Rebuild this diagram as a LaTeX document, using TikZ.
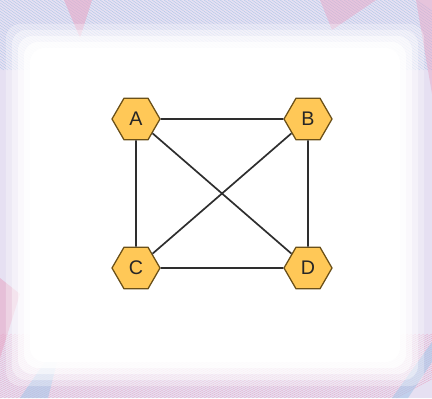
\documentclass[tikz,border=0pt]{standalone}
\usepackage{fontspec}
\setsansfont{Liberation Sans}
\usepackage{tikz}
\usetikzlibrary{shapes.geometric}
\definecolor{hexfill}{HTML}{FFC857}
\definecolor{hexline}{HTML}{6B5018}
\definecolor{edgegray}{HTML}{2E2E2E}
\definecolor{framepink}{HTML}{E7A9C8}
\definecolor{frameblue}{HTML}{A9C6E8}
\definecolor{framelav}{HTML}{E6E0F2}

\tikzset{
  vertex/.style={regular polygon, regular polygon sides=6, draw=hexline, fill=hexfill,
    line width=0.9pt, minimum size=1.2cm, inner sep=0pt,
    font=\fontsize{14}{16}\selectfont\sffamily, text=black!85},
  link/.style={draw=edgegray, line width=1.2pt}
}

\begin{document}
\begin{tikzpicture}
\useasboundingbox (0,0) rectangle (10.8,9.95);
% decorative frame
\fill[framelav] (0,0) rectangle (10.8,9.95);
\begin{scope}
\clip (0,0) rectangle (10.8,9.95);
\foreach \i in {0,0.1,...,13} {
  \draw[frameblue, line width=0.25pt] (\i-2.5,9.95) -- (\i,8.2);
  \draw[framepink, line width=0.25pt] (\i-3,0) -- (\i,1.6);
}
\fill[framepink, opacity=0.6] (1.6,9.95) -- (2.3,9.95) -- (2.0,9.0) -- cycle;
\fill[framepink, opacity=0.5] (8.0,9.95) -- (9.4,9.95) -- (8.3,9.2) -- cycle;
\fill[framepink, opacity=0.6] (0,1.0) -- (0.5,2.6) -- (0,3.0) -- cycle;
\fill[frameblue, opacity=0.6] (10.8,1.4) -- (9.8,0) -- (10.2,0) -- (10.8,0.9) -- cycle;
\fill[frameblue, opacity=0.6] (0.5,0) -- (1.6,1.6) -- (1.2,0) -- cycle;
\fill[framepink, opacity=0.5] (10.8,7.6) -- (10.4,9.95) -- (10.8,9.95) -- cycle;
\end{scope}
% white centre, soft edges
\foreach \d/\o in {0.0/0.3,0.15/0.4,0.3/0.55,0.45/0.75,0.6/1} {
  \fill[white, opacity=\o, rounded corners=10pt] (0.15+\d,0.3+\d) rectangle (10.6-\d,9.35-\d);
}

\node[vertex] (A) at (3.4,6.975) {A};
\node[vertex] (B) at (7.7,6.975) {B};
\node[vertex] (C) at (3.4,3.25) {C};
\node[vertex] (D) at (7.7,3.25) {D};

\draw[link] (A) -- (B);
\draw[link] (A) -- (C);
\draw[link] (A) -- (D);
\draw[link] (B) -- (C);
\draw[link] (B) -- (D);
\draw[link] (C) -- (D);
\end{tikzpicture}
\end{document}
